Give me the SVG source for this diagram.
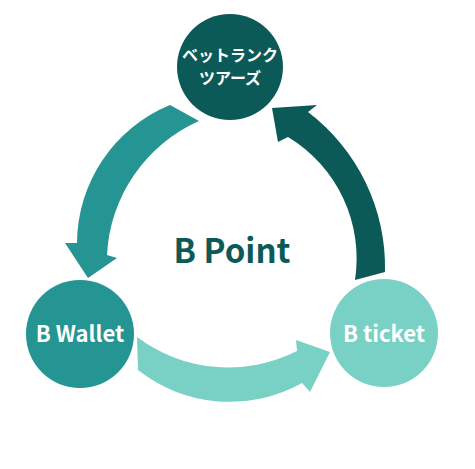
<svg xmlns="http://www.w3.org/2000/svg" width="475" height="469" viewBox="0 0 475 469">
<style>
.lbl{font-family:"Noto Sans CJK JP","Noto Sans",sans-serif;font-weight:bold;fill:#ffffff;text-anchor:middle}
.center{font-family:"Noto Sans CJK JP","Noto Sans",sans-serif;font-weight:bold;fill:#0c5a58;text-anchor:middle}
</style>
<rect width="475" height="469" fill="#ffffff"/>
<g id="connectors">
<path id="arrow-left" fill="#249592" d="M170,105 A150,150 0 0 0 77,243 L65,243 L88,278 L117,258 L107,255 A155,155 0 0 1 199,121 Z"/>
<path id="arrow-right" fill="#0c5a58" d="M385,272 A195,195 0 0 0 308,112 L317,105 L272,108 L278,142 L288,137 A142,142 0 0 1 355,280 Z"/>
<path id="arrow-bottom" fill="#79d1c5" d="M137,337 A152,152 0 0 0 297,351 L296,340 L330,352 L310,392 L302,383 A148,148 0 0 1 138,370 Z"/>
</g>
<g id="node-top">
<circle cx="230" cy="67" r="53" fill="#0c5a58"/>
<text class="lbl" x="230" y="61" font-size="16">ベットランク</text>
<text class="lbl" x="230" y="84" font-size="16">ツアーズ</text>
</g>
<g id="node-wallet">
<circle cx="80" cy="334" r="54" fill="#249592"/>
<text class="lbl" x="80" y="342" font-size="22">B Wallet</text>
</g>
<g id="node-ticket">
<circle cx="384" cy="333" r="54" fill="#79d1c5"/>
<text class="lbl" x="384" y="342" font-size="22">B ticket</text>
</g>
<g id="center-label">
<text class="center" x="232" y="263" font-size="33">B Point</text>
</g>
</svg>
